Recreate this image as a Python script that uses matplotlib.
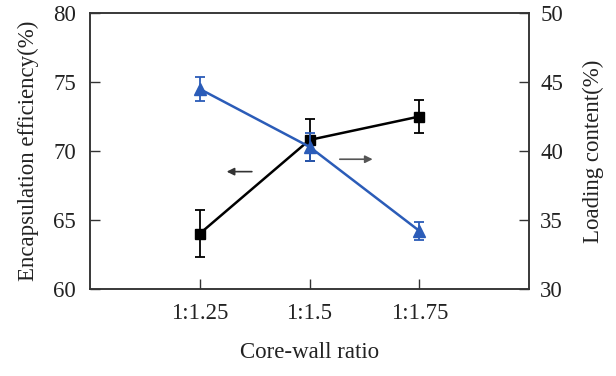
import numpy as np
import matplotlib.pyplot as plt

plt.rcParams['font.family'] = ['Liberation Serif', 'DejaVu Serif']
plt.rcParams['mathtext.fontset'] = 'stix'

ratios = ['1:1.25', '1:1.5', '1:1.75']
efficiency = [64.0, 70.8, 72.5]
efficiency_err = [1.7, 1.5, 1.2]
loading = [44.5, 40.3, 34.2]
loading_err = [0.9, 1.0, 0.65]

x = np.arange(1, len(ratios) + 1)
blue = '#2b5cb8'
axis_col = '#333333'
txt_col = '#222222'

fig, ax = plt.subplots(figsize=(6.16, 3.76), dpi=100)
fig.subplots_adjust(left=0.146, right=0.859, top=0.965, bottom=0.232)
ax2 = ax.twinx()

ax.errorbar(x, efficiency, yerr=efficiency_err, color='black', lw=1.8,
            marker='s', ms=7, capsize=3.5, elinewidth=1.3, capthick=1.3, zorder=3)
ax2.errorbar(x, loading, yerr=loading_err, color=blue, lw=1.8,
             marker='^', ms=8, capsize=3.5, elinewidth=1.3, capthick=1.3, zorder=3)

ax.set_xlim(0, 4)
ax.set_ylim(60, 80)
ax2.set_ylim(30, 50)
ax.set_xticks(x)
ax.set_xticklabels(ratios)
ax.set_yticks([60, 65, 70, 75, 80])
ax2.set_yticks([30, 35, 40, 45, 50])

for a in (ax, ax2):
    a.tick_params(direction='in', length=7, width=1, colors=axis_col,
                  labelsize=16.5, labelcolor=txt_col, pad=10)
    for s in a.spines.values():
        s.set_color(axis_col)
        s.set_linewidth(1.1)
ax.tick_params(axis='x', pad=10)
ax2.tick_params(axis='y', pad=8)

ax.set_xlabel('Core-wall ratio', fontsize=16.5, color=txt_col, labelpad=13)
ax.set_ylabel('Encapsulation efficiency(%)', fontsize=16.5, color=txt_col, labelpad=10)
ax2.set_ylabel('Loading content(%)', fontsize=16.5, color=txt_col, labelpad=14)

# arrows pointing to the matching axis
ax.annotate('', xy=(1.22, 68.5), xytext=(1.5, 68.5),
            arrowprops=dict(arrowstyle='-|>', color='#333333', lw=1.2, mutation_scale=11))
ax.annotate('', xy=(2.6, 69.4), xytext=(2.25, 69.4),
            arrowprops=dict(arrowstyle='-|>', color='#555555', lw=1.2, mutation_scale=11))

fig.savefig('out.png', dpi=100)
